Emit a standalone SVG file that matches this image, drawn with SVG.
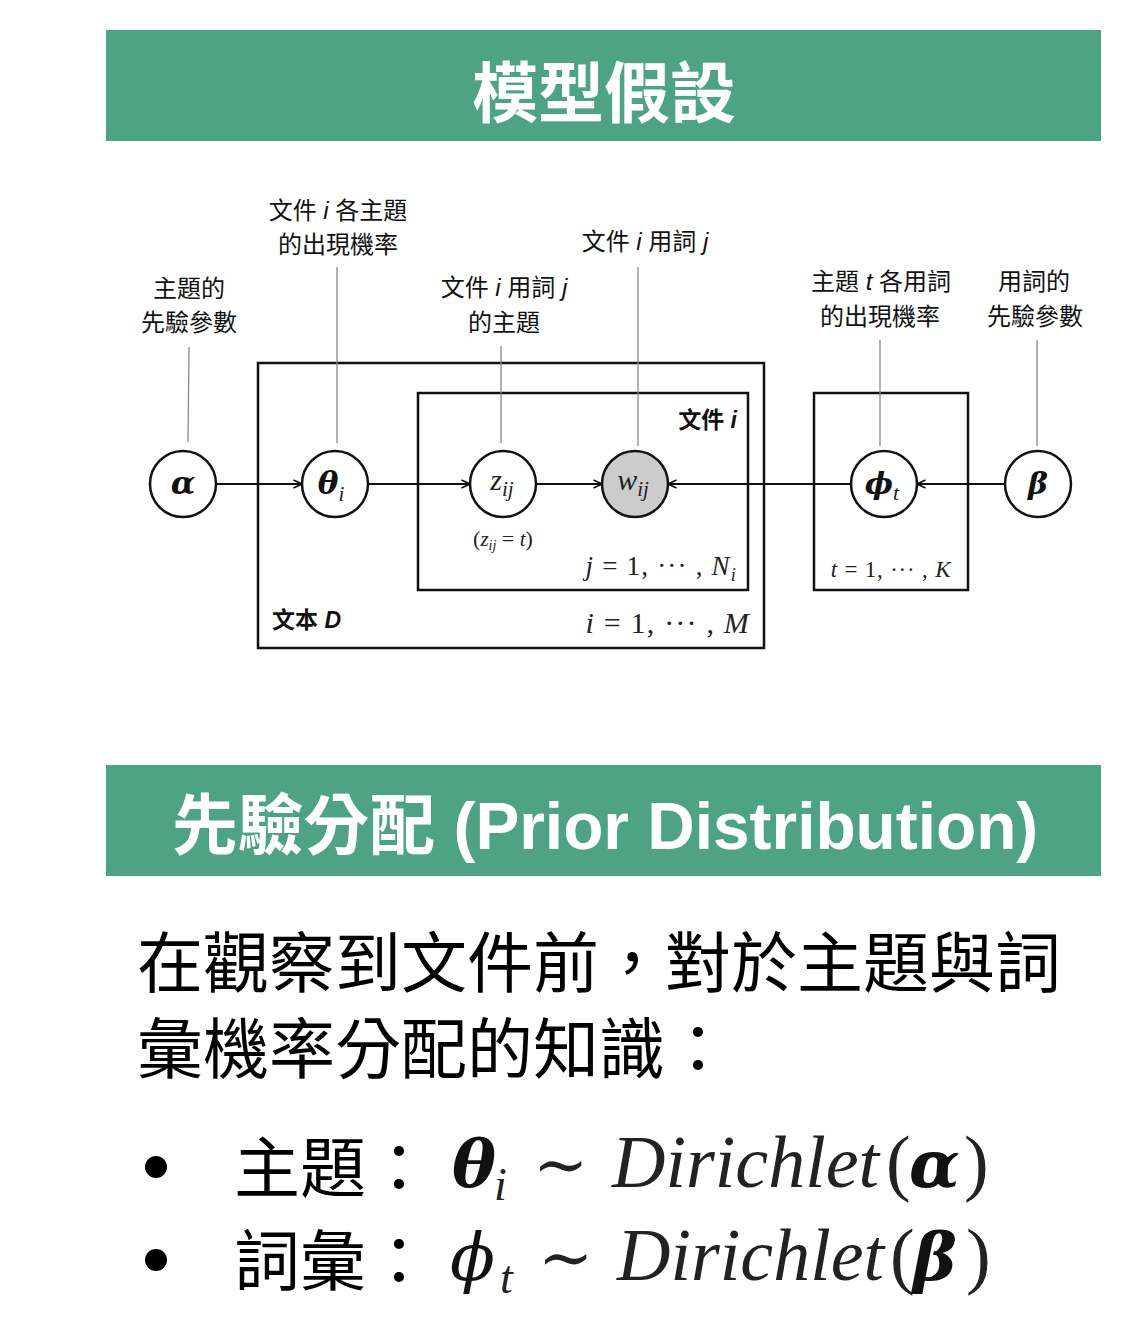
<svg xmlns="http://www.w3.org/2000/svg" width="1138" height="1330" viewBox="0 0 1138 1330">
  <style>
    .band { fill: #4ea384; }
    .band-title { fill: #ffffff; font-family: "Liberation Sans", "Noto Sans CJK TC", sans-serif; font-weight: bold; }
    .label { font-family: "Liberation Sans", "Noto Sans CJK TC", sans-serif; font-size: 24px; fill: #111; text-anchor: middle; }
    .it { font-style: italic; }
    .plate-label { font-family: "Liberation Sans", "Noto Sans CJK TC", sans-serif; font-size: 23px; font-weight: bold; fill: #111; }
    .plate { fill: none; stroke: #111; stroke-width: 2.5; }
    .node { fill: #fff; stroke: #111; stroke-width: 2.5; }
    .observed { fill: #cccccc; }
    .edge { stroke: #111; stroke-width: 2; fill: none; }
    .note { stroke: #888; stroke-width: 1.3; }
    .math { font-family: "Liberation Serif", "DejaVu Serif", serif; font-style: italic; fill: #222; }
    .mathup { font-family: "Liberation Serif", "DejaVu Serif", serif; font-style: normal; fill: #222; }
    .range { letter-spacing: 1.2px; }
    .boldgreek { font-family: "DejaVu Serif", "Liberation Serif", serif; font-weight: bold; font-style: italic; fill: #111; }
    .greek { font-family: "DejaVu Serif", "Liberation Serif", serif; font-style: italic; fill: #111; }
    .body { font-family: "Noto Sans CJK TC", sans-serif; font-size: 66px; fill: #000; }
  </style>
  <defs>
    <marker id="arrow" viewBox="0 0 10 10" refX="9.5" refY="5" markerWidth="10" markerHeight="10" markerUnits="userSpaceOnUse" orient="auto">
      <path d="M1,1 L9.5,5 L1,9" fill="none" stroke="#111" stroke-width="1.6"/>
    </marker>
  </defs>

  <!-- section header: model assumptions -->
  <g id="header-model">
    <rect class="band" x="106" y="30" width="995" height="111"/>
    <text class="band-title" x="604" y="117" font-size="66" text-anchor="middle">模型假設</text>
  </g>

  <!-- plates -->
  <g id="plate-corpus">
    <rect class="plate" x="258" y="363" width="506" height="285"/>
    <text class="plate-label" x="272" y="628">文本 <tspan class="it">D</tspan></text>
    <text class="math range" x="750" y="633" font-size="30" text-anchor="end">i <tspan class="mathup">= 1, ··· ,</tspan> M</text>
  </g>
  <g id="plate-document">
    <rect class="plate" x="418" y="393" width="330" height="197"/>
    <text class="plate-label" x="737" y="428" text-anchor="end">文件 <tspan class="it">i</tspan></text>
    <text class="math range" x="737" y="575" font-size="27" text-anchor="end">j <tspan class="mathup">= 1, ··· ,</tspan> N<tspan font-size="18" dy="6">i</tspan></text>
  </g>
  <g id="plate-topic">
    <rect class="plate" x="814" y="393" width="154" height="197"/>
    <text class="math" x="891" y="577" font-size="23" text-anchor="middle" letter-spacing="0.8">t <tspan class="mathup">= 1, ··· ,</tspan> K</text>
  </g>

  <!-- connectors -->
  <g id="connectors">
    <line class="edge" x1="216" y1="484" x2="302" y2="484" marker-end="url(#arrow)"/>
    <line class="edge" x1="368" y1="484" x2="470" y2="484" marker-end="url(#arrow)"/>
    <line class="edge" x1="536" y1="484" x2="602" y2="484" marker-end="url(#arrow)"/>
    <line class="edge" x1="851" y1="484" x2="668" y2="484" marker-end="url(#arrow)"/>
    <line class="edge" x1="1005" y1="484" x2="917" y2="484" marker-end="url(#arrow)"/>
    <!-- annotation leaders -->
    <line class="note" x1="189" y1="347" x2="188" y2="442"/>
    <line class="note" x1="337" y1="267" x2="337" y2="443"/>
    <line class="note" x1="501" y1="346" x2="501" y2="443"/>
    <line class="note" x1="638" y1="267" x2="638" y2="446"/>
    <line class="note" x1="880" y1="340" x2="880" y2="446"/>
    <line class="note" x1="1037" y1="340" x2="1037" y2="446"/>
  </g>

  <!-- nodes -->
  <g id="node-alpha">
    <circle class="node" cx="183" cy="484" r="33"/>
    <text class="boldgreek" x="183" y="494" font-size="32" text-anchor="middle">α</text>
    <text class="label" x="189" y="297">主題的</text>
    <text class="label" x="189" y="331">先驗參數</text>
  </g>
  <g id="node-theta">
    <circle class="node" cx="335" cy="484" r="33"/>
    <text x="331" y="494" text-anchor="middle"><tspan class="boldgreek" font-size="31">θ</tspan><tspan class="math" font-size="21" dy="7">i</tspan></text>
    <text class="label" x="338" y="219">文件 <tspan class="it">i</tspan> 各主題</text>
    <text class="label" x="338" y="253">的出現機率</text>
  </g>
  <g id="node-z">
    <circle class="node" cx="503" cy="484" r="33"/>
    <text x="502" y="490" text-anchor="middle" fill="#333"><tspan class="math" font-size="30">z</tspan><tspan class="math" font-size="21" dy="6">ij</tspan></text>
    <text x="503" y="546" text-anchor="middle" fill="#333"><tspan class="mathup" font-size="22">(</tspan><tspan class="math" font-size="21">z</tspan><tspan class="math" font-size="14" dy="4">ij</tspan><tspan class="mathup" font-size="22" dy="-4"> = </tspan><tspan class="math" font-size="21">t</tspan><tspan class="mathup" font-size="22">)</tspan></text>
    <text class="label" x="504" y="296">文件 <tspan class="it">i</tspan> 用詞 <tspan class="it">j</tspan></text>
    <text class="label" x="504" y="331">的主題</text>
  </g>
  <g id="node-w">
    <circle class="node observed" cx="635" cy="484" r="33"/>
    <text x="633" y="490" text-anchor="middle"><tspan class="math" font-size="30">w</tspan><tspan class="math" font-size="21" dy="6">ij</tspan></text>
    <text class="label" x="645" y="250">文件 <tspan class="it">i</tspan> 用詞 <tspan class="it">j</tspan></text>
  </g>
  <g id="node-phi">
    <circle class="node" cx="884" cy="484" r="33"/>
    <text x="882" y="494" text-anchor="middle"><tspan class="boldgreek" font-size="30">ϕ</tspan><tspan class="math" font-size="22" dy="6">t</tspan></text>
    <text class="label" x="881" y="290">主題 <tspan class="it">t</tspan> 各用詞</text>
    <text class="label" x="880" y="325">的出現機率</text>
  </g>
  <g id="node-beta">
    <circle class="node" cx="1038" cy="484" r="33"/>
    <text class="boldgreek" x="1038" y="494" font-size="30" text-anchor="middle">β</text>
    <text class="label" x="1034" y="290">用詞的</text>
    <text class="label" x="1035" y="325">先驗參數</text>
  </g>

  <!-- section header: prior distribution -->
  <g id="header-prior">
    <rect class="band" x="106" y="765" width="995" height="111"/>
    <text class="band-title" x="172" y="849" font-size="65.8">先驗分配 (Prior Distribution)</text>
  </g>

  <!-- explanatory text -->
  <g id="body-text">
    <text class="body" x="137" y="987">在觀察到文件前，對於主題與詞</text>
    <text class="body" x="137" y="1073">彙機率分配的知識：</text>
  </g>

  <!-- bullet list -->
  <g id="bullet-topic">
    <circle cx="156" cy="1167" r="11" fill="#000"/>
    <text class="body" x="234" y="1192">主題：</text>
    <text class="boldgreek" x="452" y="1187" font-size="66">θ</text>
    <text class="math" x="494" y="1200" font-size="46">i</text>
    <text class="mathup" x="533" y="1187" font-size="66">∼</text>
    <text class="math" x="612" y="1187" font-size="74">Dirichlet</text>
    <text class="mathup" x="886" y="1187" font-size="74">(</text>
    <text class="boldgreek" x="909" y="1187" font-size="66">α</text>
    <text class="mathup" x="964" y="1187" font-size="74">)</text>
  </g>
  <g id="bullet-word">
    <circle cx="156" cy="1260" r="11" fill="#000"/>
    <text class="body" x="234" y="1285">詞彙：</text>
    <text class="greek" x="450" y="1280" font-size="66">ϕ</text>
    <text class="math" x="500" y="1293" font-size="46">t</text>
    <text class="mathup" x="538" y="1280" font-size="66">∼</text>
    <text class="math" x="617" y="1280" font-size="74">Dirichlet</text>
    <text class="mathup" x="890" y="1280" font-size="74">(</text>
    <text class="boldgreek" x="913" y="1280" font-size="66">β</text>
    <text class="mathup" x="966" y="1280" font-size="74">)</text>
  </g>
</svg>
